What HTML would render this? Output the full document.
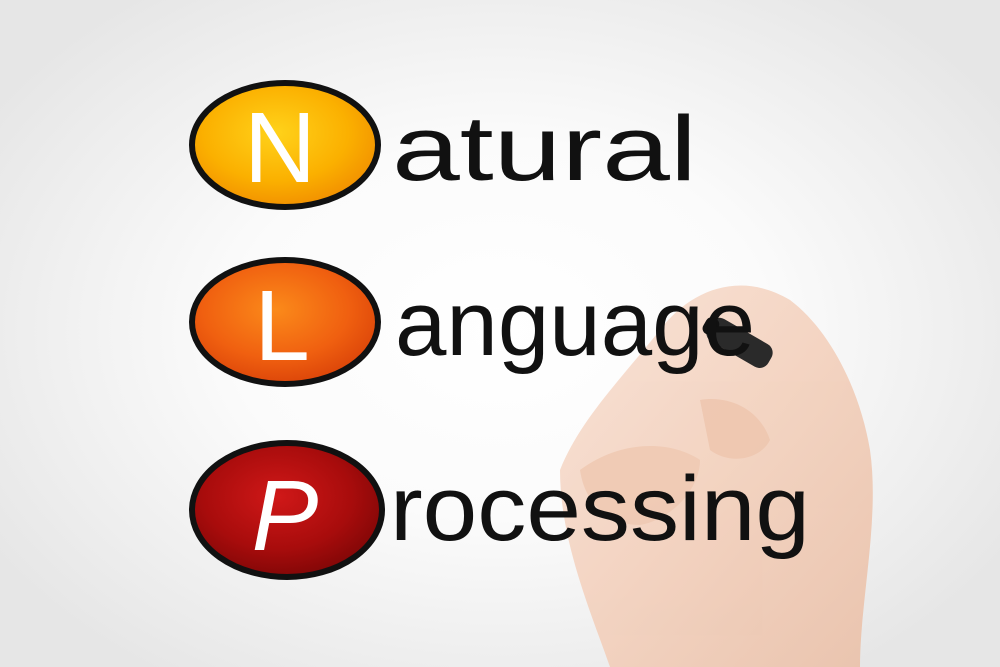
<!DOCTYPE html>
<html><head><meta charset="utf-8"><style>
html,body{margin:0;padding:0}
body{width:1000px;height:667px;overflow:hidden;position:relative;
background:radial-gradient(ellipse 600px 420px at 500px 330px,#ffffff 0%,#fbfbfb 45%,#e6e6e6 100%);}
svg{position:absolute;left:0;top:0}
</style></head><body>
<svg width="1000" height="667" viewBox="0 0 1000 667">
<defs>
<radialGradient id="gN" cx="45%" cy="40%" r="65%"><stop offset="0" stop-color="#ffd21a"/><stop offset="0.6" stop-color="#fbb000"/><stop offset="1" stop-color="#f08a00"/></radialGradient>
<radialGradient id="gL" cx="45%" cy="40%" r="65%"><stop offset="0" stop-color="#fb8a1a"/><stop offset="0.6" stop-color="#f06010"/><stop offset="1" stop-color="#d84008"/></radialGradient>
<radialGradient id="gP" cx="45%" cy="40%" r="65%"><stop offset="0" stop-color="#d01818"/><stop offset="0.6" stop-color="#a80c0c"/><stop offset="1" stop-color="#7a0606"/></radialGradient>
<linearGradient id="skin" x1="0" y1="0" x2="1" y2="1"><stop offset="0" stop-color="#f8e0d2"/><stop offset="0.5" stop-color="#f3d0bc"/><stop offset="1" stop-color="#eac0a8"/></linearGradient>
</defs>
<!-- hand -->
<g opacity="0.9">
<path d="M560 470 C580 420 620 380 660 330 C690 290 740 270 790 300 C830 330 860 390 870 450 C880 520 860 600 860 667 L610 667 C590 610 560 540 560 470 Z" fill="url(#skin)"/>
<path d="M580 470 C620 440 670 440 700 460 C700 490 670 520 640 525 C610 525 585 505 580 470 Z" fill="#efc6ae"/>
<path d="M700 400 C730 395 760 410 770 440 C760 460 730 465 710 450 Z" fill="#eec3aa"/>
</g>
<!-- marker -->
<g transform="rotate(30 740 342)">
<rect x="705" y="330" width="70" height="26" rx="10" fill="#2a2a2a"/>
<rect x="700" y="334" width="14" height="18" rx="6" fill="#111"/>
</g>
<!-- ellipses -->
<ellipse cx="285" cy="145" rx="93" ry="62" fill="url(#gN)" stroke="#111" stroke-width="6"/>
<ellipse cx="285" cy="322" rx="93" ry="62" fill="url(#gL)" stroke="#111" stroke-width="6"/>
<ellipse cx="287" cy="510" rx="95" ry="67" fill="url(#gP)" stroke="#111" stroke-width="6"/>
<g font-family="Liberation Sans, sans-serif" fill="#fff" font-size="100" text-anchor="middle">
<text x="280" y="182">N</text>
<text x="282" y="360">L</text>
<text x="285" y="550" font-style="italic">P</text>
</g>
<g font-family="Liberation Sans, sans-serif" fill="#111" font-size="92">
<text x="392" y="180" textLength="305" lengthAdjust="spacingAndGlyphs">atural</text>
<text x="395" y="355" textLength="360" lengthAdjust="spacingAndGlyphs">anguage</text>
<text x="390" y="540" textLength="420" lengthAdjust="spacingAndGlyphs">rocessing</text>
</g>
</svg>
</body></html>
